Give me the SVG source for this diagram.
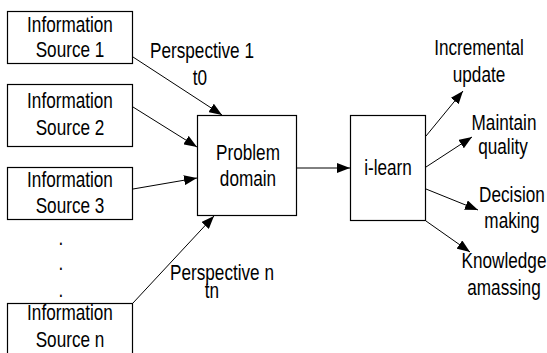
<svg xmlns="http://www.w3.org/2000/svg" width="547" height="353" viewBox="0 0 547 353">
  <style>
    .box { fill: #fff; stroke: #000; stroke-width: 1.2; }
    .t { font-family: "Liberation Sans", Arial, sans-serif; font-size: 22px; fill: #000; text-anchor: middle; }
    .edge { stroke: #000; stroke-width: 1; fill: none; marker-end: url(#arrow); }
  </style>
  <defs>
    <marker id="arrow" markerUnits="userSpaceOnUse" markerWidth="13" markerHeight="10" refX="13" refY="5" orient="auto">
      <path d="M0,0 L13,5 L0,10 z" fill="#000"/>
    </marker>
  </defs>
  <rect width="547" height="353" fill="#fff"/>

  <g id="connectors">
    <line class="edge" x1="133" y1="57" x2="222" y2="115"/>
    <line class="edge" x1="133" y1="107" x2="197" y2="147"/>
    <line class="edge" x1="133" y1="189" x2="197" y2="178"/>
    <line class="edge" x1="133" y1="303" x2="214" y2="216"/>
    <line class="edge" x1="297" y1="168" x2="350" y2="168"/>
    <line class="edge" x1="426" y1="136" x2="463" y2="91"/>
    <line class="edge" x1="426" y1="167" x2="472" y2="137"/>
    <line class="edge" x1="426" y1="189" x2="478" y2="210"/>
    <line class="edge" x1="426" y1="221" x2="470" y2="252"/>
  </g>

  <!-- narrow lettering: each label is squeezed horizontally around its anchor -->
  <g id="source1">
    <rect class="box" x="7.5" y="11.5" width="125" height="52"/>
    <text class="t" transform="translate(70 32) scale(0.78 1)">Information</text>
    <text class="t" transform="translate(70 57) scale(0.78 1)">Source 1</text>
  </g>
  <g id="source2">
    <rect class="box" x="7.5" y="84.5" width="125" height="62"/>
    <text class="t" transform="translate(70 108) scale(0.78 1)">Information</text>
    <text class="t" transform="translate(70 135) scale(0.78 1)">Source 2</text>
  </g>
  <g id="source3">
    <rect class="box" x="7.5" y="167.5" width="125" height="52"/>
    <text class="t" transform="translate(70 187) scale(0.78 1)">Information</text>
    <text class="t" transform="translate(70 213) scale(0.78 1)">Source 3</text>
  </g>
  <g id="ellipsis">
    <text class="t" transform="translate(61 245) scale(0.78 1)">.</text>
    <text class="t" transform="translate(61 270) scale(0.78 1)">.</text>
    <text class="t" transform="translate(61 297) scale(0.78 1)">.</text>
  </g>
  <g id="sourceN">
    <rect class="box" x="7.5" y="303.5" width="125" height="60"/>
    <text class="t" transform="translate(70 320) scale(0.78 1)">Information</text>
    <text class="t" transform="translate(70 347) scale(0.78 1)">Source n</text>
  </g>

  <g id="label-perspective1">
    <text class="t" transform="translate(202 58) scale(0.78 1)">Perspective 1</text>
    <text class="t" transform="translate(200 85) scale(0.78 1)">t0</text>
  </g>
  <g id="label-perspectiveN">
    <text class="t" transform="translate(222 280) scale(0.78 1)">Perspective n</text>
    <text class="t" transform="translate(212 298) scale(0.78 1)">tn</text>
  </g>

  <g id="problem-domain">
    <rect class="box" x="197.5" y="115.5" width="99" height="100"/>
    <text class="t" transform="translate(248 160) scale(0.78 1)">Problem</text>
    <text class="t" transform="translate(248 186) scale(0.78 1)">domain</text>
  </g>
  <g id="i-learn">
    <rect class="box" x="350.5" y="115.5" width="75" height="105"/>
    <text class="t" transform="translate(388 175) scale(0.78 1)">i-learn</text>
  </g>

  <g id="out-incremental">
    <text class="t" transform="translate(479 55) scale(0.78 1)">Incremental</text>
    <text class="t" transform="translate(479 82) scale(0.78 1)">update</text>
  </g>
  <g id="out-quality">
    <text class="t" transform="translate(504 130) scale(0.78 1)">Maintain</text>
    <text class="t" transform="translate(503 154) scale(0.78 1)">quality</text>
  </g>
  <g id="out-decision">
    <text class="t" transform="translate(512 202) scale(0.78 1)">Decision</text>
    <text class="t" transform="translate(512 228) scale(0.78 1)">making</text>
  </g>
  <g id="out-knowledge">
    <text class="t" transform="translate(504 268) scale(0.78 1)">Knowledge</text>
    <text class="t" transform="translate(504 295) scale(0.78 1)">amassing</text>
  </g>
</svg>
